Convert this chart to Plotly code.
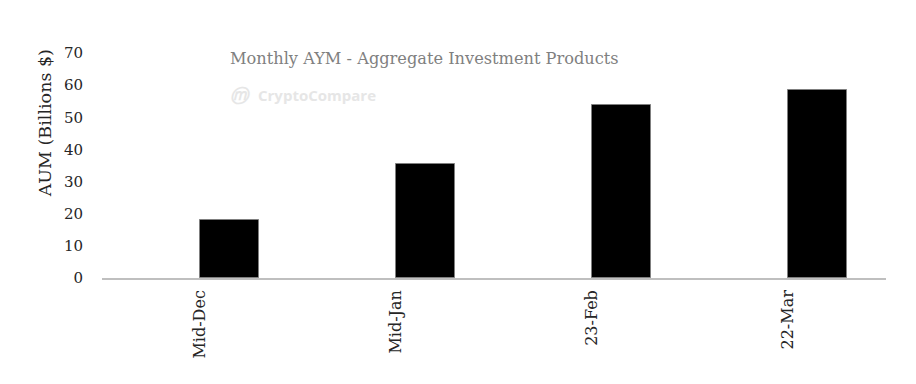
import plotly.graph_objects as go

categories = ["Mid-Dec", "Mid-Jan", "23-Feb", "22-Mar"]
aum_values = [18.0, 35.4, 53.9, 58.6]
y_ticks = [0, 10, 20, 30, 40, 50, 60, 70]

# page body has an 8px default margin; compensate
OFF = 8
W, H = 916 - OFF, 384 - OFF
L, T = 101.7 - OFF, 53 - OFF
R = W - (886 - OFF)
B = H - (278 - OFF)

fig = go.Figure()
fig.add_trace(go.Bar(
    x=categories, y=aum_values,
    width=0.30, offset=0,
    marker=dict(color="#000000", line=dict(color="#7f7f7f", width=1)),
    hoverinfo="x+y",
))

font = "DejaVu Serif, Liberation Serif, serif"
fig.update_layout(
    width=W, height=H,
    margin=dict(l=L, r=R, t=T, b=B, pad=0, autoexpand=False),
    plot_bgcolor="white", paper_bgcolor="white",
    showlegend=False,
    font=dict(family=font, color="#262626", size=15),
    bargap=0,
)
fig.update_xaxes(
    type="category", range=[-0.5, 3.5],
    tickangle=-90, showgrid=False, showline=True, automargin=False,
    linecolor="#bfbfbf", linewidth=1.5, ticks="", ticklabelstandoff=4,
    tickfont=dict(size=16, family=font, color="#262626"),
)
fig.update_yaxes(
    range=[0, 70], tickvals=y_ticks, showgrid=False, showline=False,
    zeroline=False, ticks="", ticklabelstandoff=18, automargin=False,
    tickfont=dict(size=15, family=font, color="#262626"),
)
pw = 886 - 101.7
ph = 278 - 53
fig.add_annotation(
    text="AUM (Billions $)", textangle=-90, xref="paper", yref="paper",
    x=(45 - 101.7) / pw, y=(278 - 123) / ph,
    showarrow=False, font=dict(size=17.5, family=font, color="#262626"),
    xanchor="center", yanchor="middle",
)
fig.add_annotation(
    text="Monthly AYM - Aggregate Investment Products", xref="paper", yref="paper",
    x=(228 - 101.7) / pw, y=(278 - 59) / ph,
    xanchor="left", yanchor="middle", showarrow=False,
    font=dict(size=16.2, family=font, color="#808080"),
)
fig.add_annotation(
    text="<b>CryptoCompare</b>", xref="paper", yref="paper",
    x=(256 - 101.7) / pw, y=(278 - 95) / ph,
    xanchor="left", yanchor="middle", showarrow=False,
    font=dict(size=15, family="Open Sans, sans-serif", color="#e6e6e6"),
)
fig.add_annotation(
    text="<i><b>ⓜ</b></i>", xref="paper", yref="paper",
    x=(240 - 101.7) / pw, y=(278 - 95) / ph,
    xanchor="center", yanchor="middle", showarrow=False,
    font=dict(size=18, family="DejaVu Sans, sans-serif", color="#e6e6e6"),
)

fig.write_html("out.html")
